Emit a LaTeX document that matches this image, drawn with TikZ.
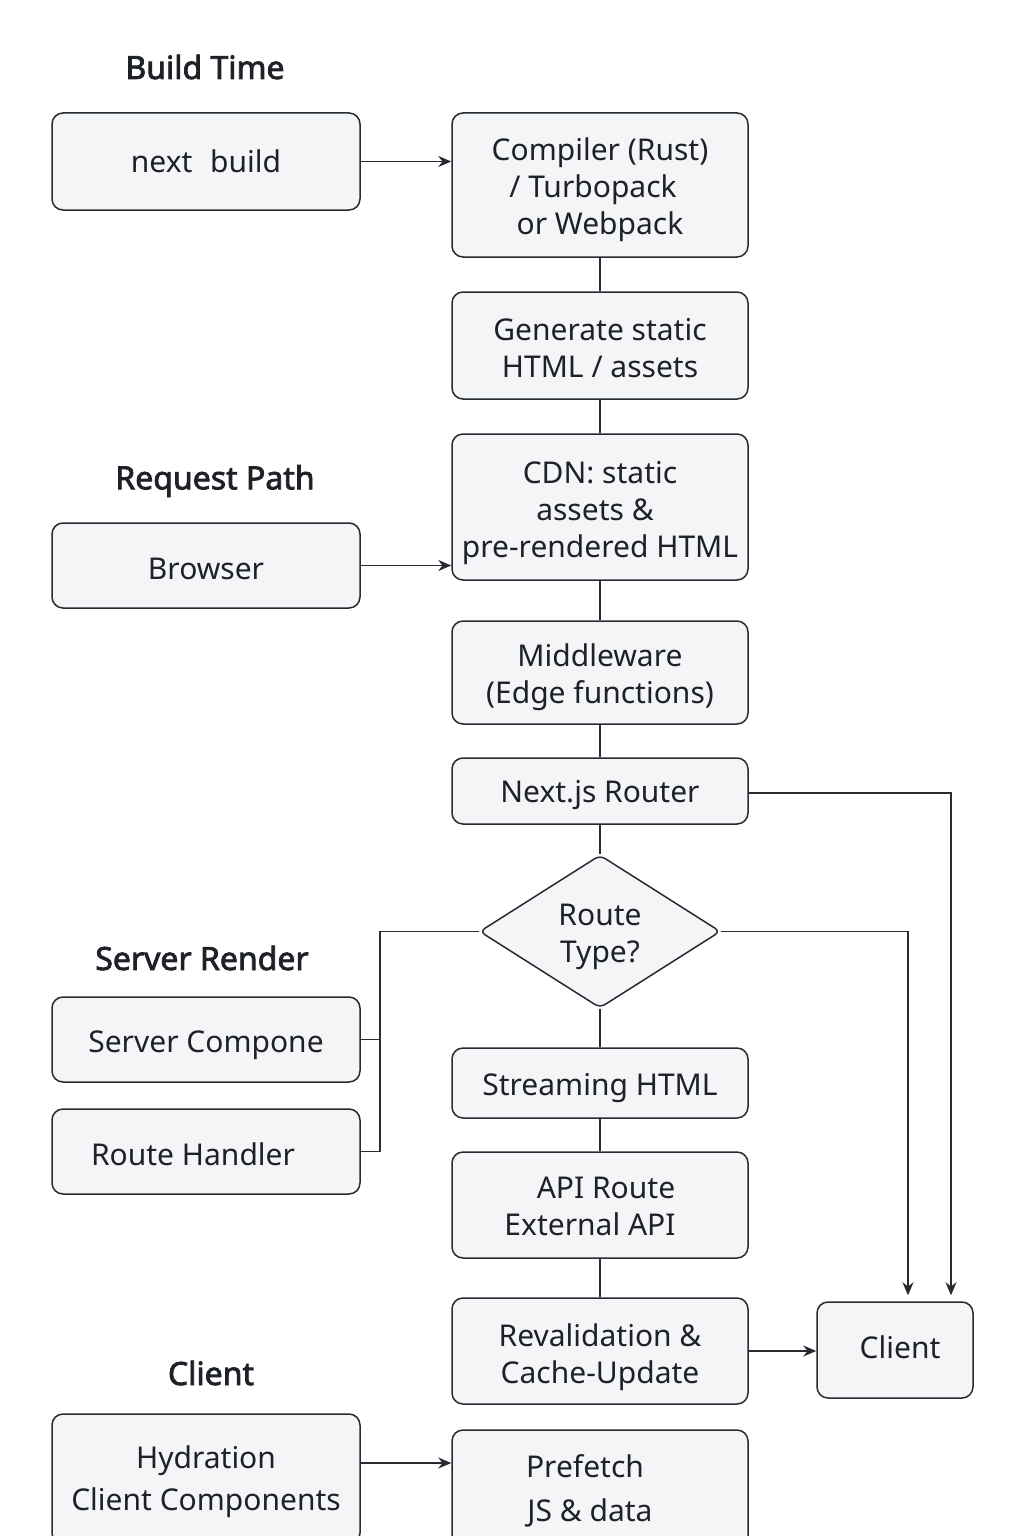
\documentclass[tikz,border=0pt]{standalone}
\usepackage{fontspec}
\setmainfont{Noto Sans}
\newfontfamily\headfont{Noto Sans}[FakeBold=2.4]
\usetikzlibrary{shapes.geometric,arrows.meta}
\definecolor{linec}{HTML}{262A31}
\definecolor{boxfill}{HTML}{F4F5F7}
\definecolor{txt}{HTML}{1E2228}
\newcommand\tx[2]{\raisebox{#1}[\height][\depth]{\begin{tabular}{@{}c@{}}#2\end{tabular}}}
\tikzset{
  box/.style={draw=linec, line width=1.5pt, rounded corners=11pt, fill=boxfill, align=center,
    inner sep=0pt, text=txt, font=\fontsize{30}{37}\selectfont},
  head/.style={text=txt, font=\fontsize{32}{36}\selectfont\headfont, inner sep=0pt},
  conn/.style={draw=linec, line width=1.5pt},
  arr/.style={conn, -{Stealth[length=13pt,width=11pt]}}
}
\begin{document}
\begin{tikzpicture}[x=1pt,y=-1pt]
\useasboundingbox[fill=white] (0,0) rectangle (1024,1536);
% headings
\node[head] (h1) at (205,67) {Build Time};
\node[head] (h2) at (215,481) {Request Path};
\node[head] (h3) at (202,958) {Server Render};
\node[head] (h4) at (211,1373) {Client};
% left boxes
\node[box, minimum width=308pt, minimum height=97pt] (nb) at (206,161.5) {\tx{-4pt}{next\,\, build}};
\node[box, minimum width=308pt, minimum height=85pt] (br) at (206,565.5) {\tx{-7pt}{Browser}};
\node[box, minimum width=308pt, minimum height=85pt] (sc) at (206,1039.5) {\tx{-6pt}{Server Compone}};
\node[box, minimum width=308pt, minimum height=85pt] (rh) at (206,1151.5) {\tx{-7pt}{\hspace*{-26pt}Route Handler}};
\node[box, minimum width=308pt, minimum height=130pt] (hy) at (206,1479) {\tx{-3pt}{Hydration\\[5pt]Client Components}};
% center column
\node[box, minimum width=296pt, minimum height=144pt] (cp) at (600,185) {\tx{-5pt}{Compiler (Rust)\\\hspace*{-14pt}/ Turbopack\\or Webpack}};
\node[box, minimum width=296pt, minimum height=107pt] (gs) at (600,345.5) {\tx{-6pt}{Generate static\\HTML / assets}};
\node[box, minimum width=296pt, minimum height=146pt] (cdn) at (600,507) {\tx{-6pt}{CDN: static\\\hspace*{-10pt}assets \&\\pre-rendered HTML}};
\node[box, minimum width=296pt, minimum height=103pt] (mw) at (600,672.5) {\tx{-5pt}{Middleware\\(Edge functions)}};
\node[box, minimum width=296pt, minimum height=66pt] (rt) at (600,791) {\tx{-4pt}{Next.js Router}};
\node[box, shape=diamond, rounded corners=6pt, minimum width=241pt, minimum height=153pt, aspect=1.575] (rty) at (600,931.5) {\tx{-5pt}{Route\\Type?}};
\node[box, minimum width=296pt, minimum height=70pt] (sh) at (600,1083) {\tx{-5pt}{Streaming HTML}};
\node[box, minimum width=296pt, minimum height=106pt] (api) at (600,1205) {\tx{-5pt}{\hspace*{12pt}API Route\\\hspace*{-20pt}External API}};
\node[box, minimum width=296pt, minimum height=106pt] (rv) at (600,1351) {\tx{-7pt}{Revalidation \&\\Cache-Update}};
\node[box, minimum width=296pt, minimum height=120pt] (pf) at (600,1490) {\tx{-2pt}{\hspace*{-30pt}Prefetch\\[7pt]\hspace*{-20pt}JS \& data}};
% right client
\node[box, minimum width=156pt, minimum height=96pt] (cl) at (895,1350) {\tx{-1pt}{\hspace*{10pt}Client}};
% connectors
\draw[arr] (nb.east) -- (nb.east -| cp.west);
\draw[arr] (br.east) -- (br.east -| cdn.west);
\draw[conn] (cp) -- (gs);
\draw[conn] (gs) -- (cdn);
\draw[conn] (cdn) -- (mw);
\draw[conn] (mw) -- (rt);
\draw[conn] (rt) -- (rty);
\draw[conn] (rty) -- (sh);
\draw[conn] (sh) -- (api);
\draw[conn] (api) -- (rv);
\draw[arr] (rv.east) -- (rv.east -| cl.west);
\coordinate (cla) at ([xshift=56pt,yshift=6pt]cl.north);
\coordinate (clb) at ([xshift=13pt,yshift=6pt]cl.north);
\draw[arr] ([yshift=-2pt]rt.east) -| (cla);
\draw[arr] (rty.east) -| (clb);
\coordinate (jn) at (380,931.5);
\draw[conn] (rty.west) -- (jn) |- (rh.east);
\draw[conn] (sc.east) -- (sc.east -| jn);
\draw[arr] (hy.east |- 0,1463) -- (pf.west |- 0,1463);
\end{tikzpicture}
\end{document}
